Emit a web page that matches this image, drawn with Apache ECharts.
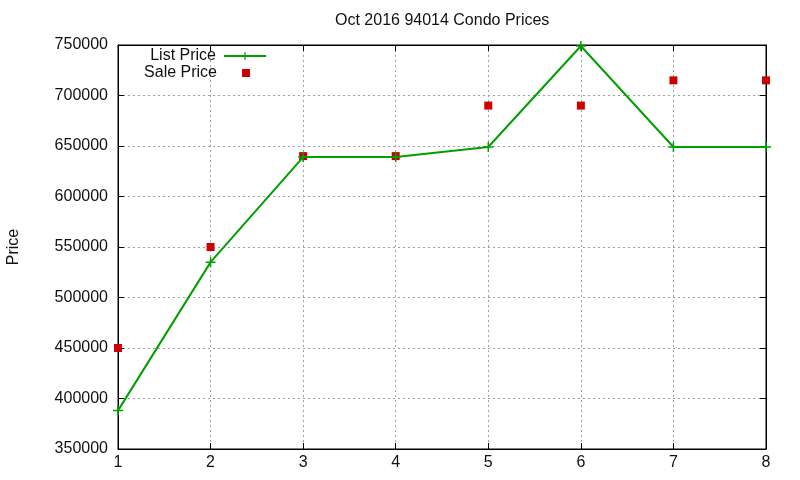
<!DOCTYPE html>
<html><head><meta charset="utf-8">
<script src="https://cdn.jsdelivr.net/npm/echarts@6/dist/echarts.min.js"></script>
<style>html,body{margin:0;padding:0;background:#fff}#c{width:800px;height:480px}</style>
</head><body><div id="c"></div>
<script>
const xValues = [1, 2, 3, 4, 5, 6, 7, 8];
const listPrice = [388000, 535000, 639000, 639000, 649000, 749000, 649000, 649000];
const salePrice = [450000, 550000, 640000, 640000, 690000, 690000, 715000, 715000];
const titleText = 'Oct 2016 94014 Condo Prices';
const yName = 'Price';

const font = 'Liberation Sans, Arial, sans-serif';
const fs = 16;
const plus = 'path://M4.25,0H5.75V10H4.25Z M0,4.25H10V5.75H0Z';
const chart = echarts.init(document.getElementById('c'));
const axisCommon = {
  axisLine: {show: true, lineStyle: {color: '#000', width: 1}},
  axisTick: {show: true, inside: true, length: 6, lineStyle: {color: '#000'}}
};
chart.setOption({
  animation: false,
  backgroundColor: '#fff',
  title: {text: titleText, left: 335, top: 13, padding: 0, textStyle: {fontFamily: font, fontSize: fs, fontWeight: 'normal', color: '#111'}},
  grid: {left: 118, right: 34, top: 45, bottom: 31, show: true, borderColor: '#000', borderWidth: 1, outerBoundsMode: 'none', containLabel: false},
  legend: [
    {data: ['List Price'], orient: 'vertical', align: 'right', right: 533, top: 48, padding: 0, itemWidth: 42, itemHeight: 10,
     textStyle: {fontFamily: font, fontSize: fs, color: '#111', padding: [0, 3, 0, 0]}},
    {data: ['Sale Price'], orient: 'vertical', align: 'right', right: 550, top: 65, padding: 0, itemWidth: 8, itemHeight: 8,
     textStyle: {fontFamily: font, fontSize: fs, color: '#111', padding: [0, 20, 0, 0]}}
  ],
  xAxis: [
    Object.assign({type: 'value', min: 1, max: 8, interval: 1,
      splitLine: {show: true, lineStyle: {color: '#a0a0a0', type: [2, 3], width: 1}},
      axisLabel: {color: '#111', fontFamily: font, fontSize: fs, margin: 6}}, axisCommon),
    Object.assign({type: 'value', position: 'top', min: 1, max: 8, interval: 1, splitLine: {show: false}, axisLabel: {show: false}}, axisCommon)
  ],
  yAxis: [
    Object.assign({type: 'value', min: 350000, max: 750000, interval: 50000, name: yName, nameLocation: 'middle', nameGap: 96, nameRotate: 90,
      nameTextStyle: {fontFamily: font, fontSize: fs, color: '#111'},
      splitLine: {show: true, lineStyle: {color: '#a0a0a0', type: [2, 3], width: 1}},
      axisLabel: {color: '#111', fontFamily: font, fontSize: fs, margin: 10, formatter: v => String(v)}}, axisCommon),
    Object.assign({type: 'value', position: 'right', min: 350000, max: 750000, interval: 50000, splitLine: {show: false}, axisLabel: {show: false}}, axisCommon)
  ],
  series: [
    {name: 'List Price', type: 'line', data: xValues.map((x, i) => [x, listPrice[i]]),
     symbol: plus, symbolSize: 10, showAllSymbol: true, clip: false,
     lineStyle: {color: '#00a000', width: 2}, itemStyle: {color: '#00a000'}},
    {name: 'Sale Price', type: 'scatter', data: xValues.map((x, i) => [x, salePrice[i]]),
     symbol: 'rect', symbolSize: 8, clip: false, itemStyle: {color: '#cc0000', opacity: 1}}
  ]
});
</script></body></html>
